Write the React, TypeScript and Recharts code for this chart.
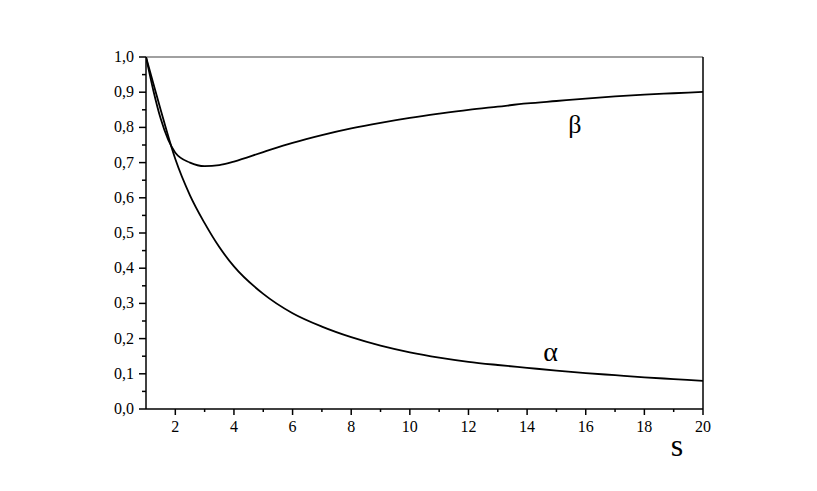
import { LineChart, Line, XAxis, YAxis, ReferenceLine, ReferenceDot, Label } from "recharts";

// ── Data ────────────────────────────────────────────────────────────────────

const sValues = [1, 1.25, 1.5, 2, 2.5, 3, 3.5, 4, 5, 6, 7, 8, 9, 10, 11, 12, 13, 14, 15, 16, 17, 18, 19, 20];
const alphaValues = [
  1.0, 0.925, 0.85, 0.71, 0.607, 0.528, 0.46, 0.405, 0.327, 0.272, 0.234, 0.204, 0.18, 0.161, 0.146, 0.134,
  0.125, 0.117, 0.109, 0.102, 0.096, 0.09, 0.085, 0.08,
];
const betaValues = [
  1.0, 0.905, 0.825, 0.728, 0.7, 0.69, 0.693, 0.703, 0.73, 0.756, 0.778, 0.797, 0.813, 0.827, 0.839, 0.85,
  0.859, 0.868, 0.875, 0.882, 0.888, 0.893, 0.897, 0.901,
];

const xMajorTicks = [2, 4, 6, 8, 10, 12, 14, 16, 18, 20];
const xMinorTicks = [3, 5, 7, 9, 11, 13, 15, 17, 19];
const yMajorTicks = [0, 0.1, 0.2, 0.3, 0.4, 0.5, 0.6, 0.7, 0.8, 0.9, 1.0];
const yMinorTicks = [0.05, 0.15, 0.25, 0.35, 0.45, 0.55, 0.65, 0.75, 0.85, 0.95];

const data = sValues.map((s, i) => ({ s, alpha: alphaValues[i], beta: betaValues[i] }));

const FONT = "Liberation Serif, Times New Roman, DejaVu Serif, serif";

// ── Custom ticks ────────────────────────────────────────────────────────────

function XTick(props: any) {
  const { x, y, payload } = props;
  const axisY = y - 8; // tickSize 6 + tickMargin 2
  const major = xMajorTicks.includes(payload.value);
  return (
    <g>
      <line x1={x} x2={x} y1={axisY} y2={axisY + (major ? 6 : 3)} stroke="#000" strokeWidth={1.5} />
      {major && (
        <text x={x} y={axisY + 23} textAnchor="middle" style={{ fontSize: 16, fontFamily: FONT }} fill="#000">
          {payload.value}
        </text>
      )}
    </g>
  );
}

function YTick(props: any) {
  const { x, y, payload } = props;
  const axisX = x + 8;
  const major = yMajorTicks.some((t) => Math.abs(t - payload.value) < 1e-6);
  return (
    <g>
      <line x1={axisX - (major ? 7 : 4)} x2={axisX} y1={y} y2={y} stroke="#000" strokeWidth={1.5} />
      {major && (
        <text x={axisX - 12} y={y + 5} textAnchor="end" style={{ fontSize: 16, fontFamily: FONT }} fill="#000">
          {payload.value.toFixed(1).replace(".", ",")}
        </text>
      )}
    </g>
  );
}

// ── Component ───────────────────────────────────────────────────────────────

export default function App() {
  const yTicks = [...yMajorTicks, ...yMinorTicks].sort((a, b) => a - b);
  const xTicks = [...xMajorTicks, ...xMinorTicks].sort((a, b) => a - b);

  return (
    <div style={{ position: "absolute", left: 0, top: 0, width: 817, height: 491, background: "#fff" }}>
      <LineChart width={817} height={491} data={data} margin={{ top: 57, right: 114, bottom: 52, left: 96 }}>
        <XAxis
          dataKey="s"
          type="number"
          domain={[1, 20]}
          ticks={xTicks}
          tick={<XTick />}
          tickLine={false}
          tickSize={6}
          tickMargin={2}
          height={30}
          axisLine={{ stroke: "#000", strokeWidth: 1.5 }}
          interval={0}
          allowDataOverflow
        />
        <YAxis
          type="number"
          domain={[0, 1]}
          ticks={yTicks}
          tick={<YTick />}
          tickLine={false}
          tickSize={6}
          tickMargin={2}
          width={50}
          axisLine={{ stroke: "#000", strokeWidth: 1.5 }}
          interval={0}
          allowDataOverflow
        />
        <ReferenceLine y={1} stroke="#808080" strokeWidth={1.5} />
        <ReferenceLine x={20} stroke="#000" strokeWidth={1.5} />
        <Line type="monotone" dataKey="alpha" stroke="#000" strokeWidth={1.8} dot={false} isAnimationActive={false} />
        <Line type="monotone" dataKey="beta" stroke="#000" strokeWidth={1.8} dot={false} isAnimationActive={false} />
        <ReferenceDot x={15.63} y={0.81} r={0} stroke="none" fill="none" ifOverflow="visible">
          <Label value="β" position="center" style={{ fontSize: 26, fontFamily: FONT }} fill="#000" />
        </ReferenceDot>
        <ReferenceDot x={14.8} y={0.165} r={0} stroke="none" fill="none" ifOverflow="visible">
          <Label value="α" position="center" style={{ fontSize: 28, fontFamily: FONT }} fill="#000" />
        </ReferenceDot>
        <ReferenceDot x={19.11} y={-0.1} r={0} stroke="none" fill="none" ifOverflow="visible">
          <Label value="s" position="center" style={{ fontSize: 32, fontFamily: FONT }} fill="#000" />
        </ReferenceDot>
      </LineChart>
    </div>
  );
}
